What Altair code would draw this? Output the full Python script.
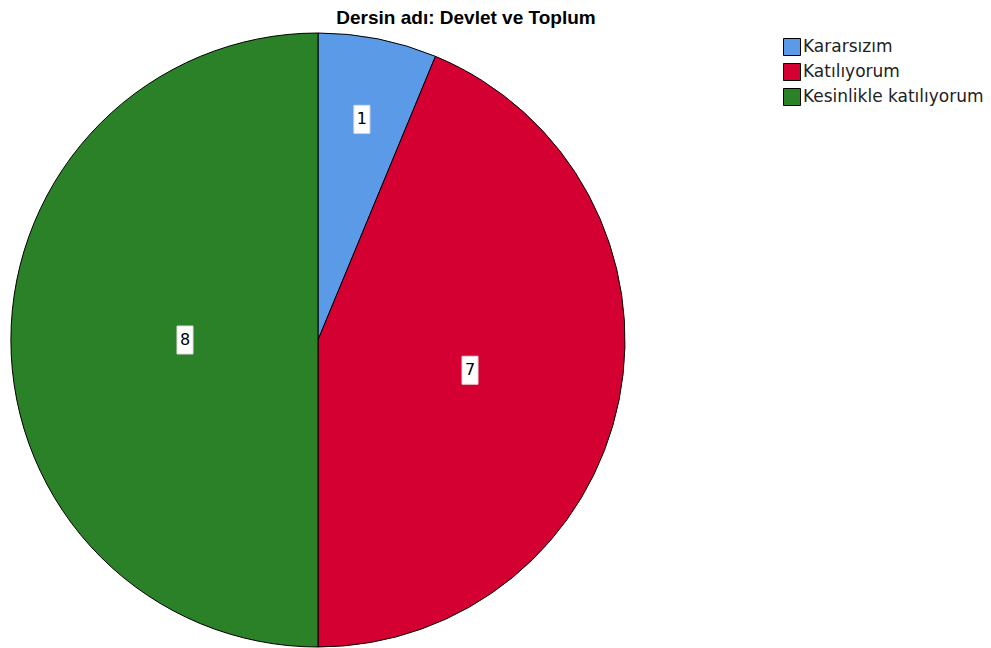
import altair as alt
import pandas as pd

title_text = "Dersin adı: Devlet ve Toplum"
categories = ["Kararsızım", "Katılıyorum", "Kesinlikle katılıyorum"]
counts = [1, 7, 8]
order_idx = [0, 1, 2]

colors = ["#5A9AE6", "#D50032", "#2A8128"]
label_radius = [225, 155, 133]

CX, CY, R = 310, 332, 307

df = pd.DataFrame({
    "kategori": categories,
    "sayi": counts,
    "sira": order_idx,
    "lr": label_radius,
})

color = alt.Color(
    "kategori:N",
    scale=alt.Scale(domain=categories, range=colors),
    sort=categories,
    legend=alt.Legend(
        title=None,
        orient="none",
        legendX=775,
        legendY=30,
        symbolType="square",
        symbolSize=289,
        symbolStrokeColor="black",
        symbolStrokeWidth=1,
        symbolOpacity=1,
        labelFont="DejaVu Sans",
        labelFontSize=17,
        labelColor="#222222",
        labelOffset=2,
        labelLimit=400,
        rowPadding=3,
    ),
)

base = alt.Chart(df)

pie = base.mark_arc(radius=R, stroke="black", strokeWidth=1).encode(
    theta=alt.Theta("sayi:Q", stack=True),
    color=color,
    order=alt.Order("sira:Q"),
    x=alt.value(CX),
    y=alt.value(CY),
)

lab = base.transform_joinaggregate(
    total="sum(sayi)"
).transform_window(
    cum="sum(sayi)", sort=[alt.SortField("sira")], frame=[None, 0]
).transform_calculate(
    mid="2*PI*(datum.cum - datum.sayi/2)/datum.total",
).transform_calculate(
    lx=f"{CX} + datum.lr*sin(datum.mid)",
    ly=f"{CY} - datum.lr*cos(datum.mid)",
).transform_calculate(
    bx1="datum.lx - 8", bx2="datum.lx + 8",
    by1="datum.ly - 14", by2="datum.ly + 14",
)

boxes = lab.mark_rect(fill="white", stroke="#e8d8dc", strokeWidth=1).encode(
    x=alt.X("bx1:Q", scale=None, axis=None),
    x2="bx2:Q",
    y=alt.Y("by1:Q", scale=None, axis=None),
    y2="by2:Q",
)

texts = lab.mark_text(font="DejaVu Sans", fontSize=16, color="black", baseline="middle", align="center").encode(
    x=alt.X("lx:Q", scale=None, axis=None),
    y=alt.Y("ly:Q", scale=None, axis=None),
    text="sayi:Q",
)

title = alt.Chart(pd.DataFrame({"t": [title_text]})).mark_text(
    font="Liberation Sans", fontSize=19, fontWeight="bold", color="black",
    align="center", baseline="alphabetic",
).encode(x=alt.value(458), y=alt.value(16), text="t:N")

chart = alt.layer(pie, boxes, texts, title).properties(
    width=975, height=640,
    autosize=alt.AutoSizeParams(type="none"),
    padding=0,
).configure_view(stroke=None)

chart.save("out.html", embed_options={"renderer": "svg", "actions": False})
